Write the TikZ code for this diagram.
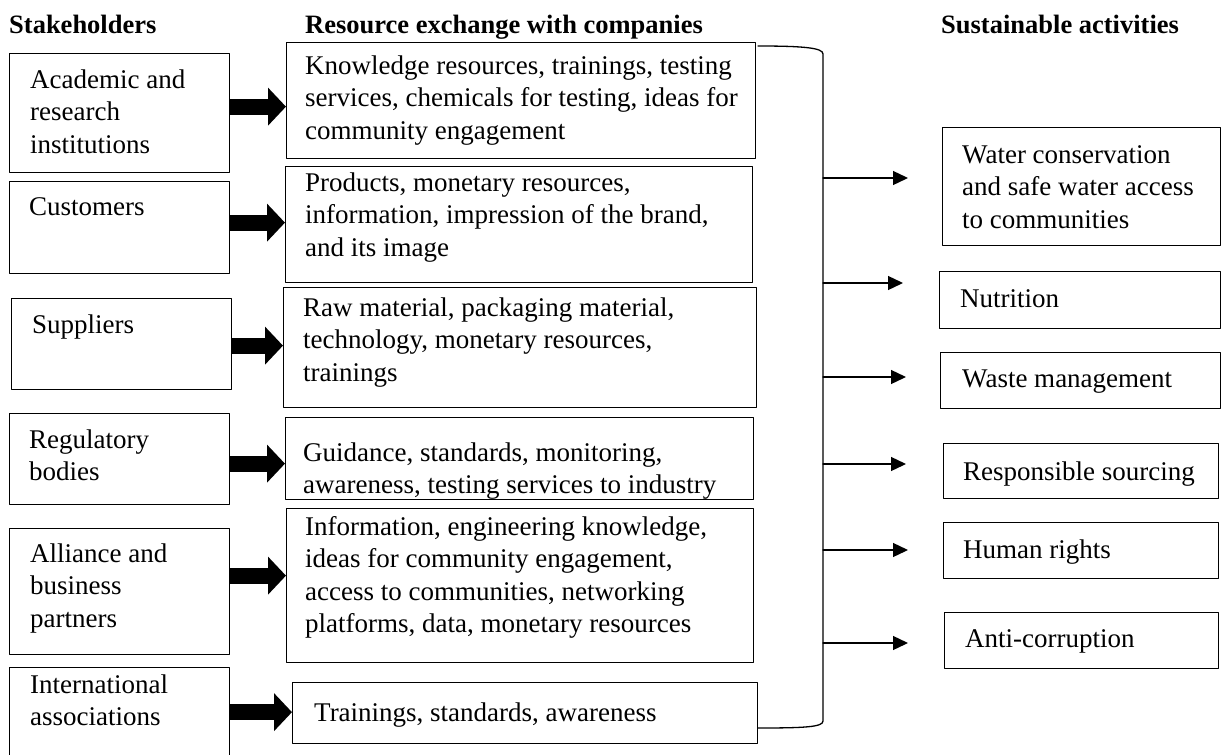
\documentclass[tikz,border=0pt]{standalone}
\usepackage{fontspec}
\setmainfont{Liberation Serif}
\usetikzlibrary{arrows.meta}

\begin{document}
\begin{tikzpicture}[line cap=round,line join=round,x=1pt,y=1pt,
  every node/.style={font=\fontsize{27}{32.5}\selectfont},
  head/.style={anchor=base west,inner sep=0pt,font=\fontsize{26.5}{32}\selectfont\bfseries},
  box/.style={draw,line width=1.3pt,inner sep=0pt,anchor=north west},
  txt/.style={anchor=base west,align=left,inner sep=0pt},
  push/.style={-{Triangle[length=18pt,width=37pt]},line width=16pt,line cap=butt},
  flow/.style={-{Triangle[length=15pt,width=14pt]},line width=1.3pt}]
\useasboundingbox (0,0) rectangle (1221,-755);
\clip (0,0) rectangle (1221,-755);

% headings
\node[head] (hstake) at (9,-33) {Stakeholders};
\node[head] (hres) at (305,-33) {Resource exchange with companies};
\node[head] (hsus) at (941,-33) {Sustainable activities};

% stakeholders (text nodes sit on the baseline of their last line)
\node[box,minimum width=220pt,minimum height=119pt] (acad) at (9,-53) {};
\node[txt] (acadt) at (30,-153) {Academic and\\research\\institutions};
\node[box,minimum width=220pt,minimum height=92pt] (cust) at (9,-181) {};
\node[txt] (custt) at (29,-215) {Customers};
\node[box,minimum width=220pt,minimum height=91pt] (supp) at (11,-298) {};
\node[txt] (suppt) at (32,-333) {Suppliers};
\node[box,minimum width=220pt,minimum height=91pt] (regu) at (9,-413) {};
\node[txt] (regut) at (29,-480.5) {Regulatory\\bodies};
\node[box,minimum width=220pt,minimum height=126pt] (alli) at (9,-528) {};
\node[txt] (allit) at (30,-627) {Alliance and\\business\\partners};
\node[box,minimum width=220pt,minimum height=110pt] (intl) at (9,-667) {};
\node[txt] (intlt) at (30,-725.5) {International\\associations};

% resources exchanged
\node[box,minimum width=469pt,minimum height=116pt] (res1) at (286,-42) {};
\node[txt] (res1t) at (305,-139) {Knowledge resources, trainings, testing\\services, chemicals for testing, ideas for\\community engagement};
\node[box,minimum width=467pt,minimum height=116pt] (res2) at (285,-166) {};
\node[txt] (res2t) at (305,-256) {Products, monetary resources,\\information, impression of the brand,\\and its image};
\node[box,minimum width=473pt,minimum height=120pt] (res3) at (283,-287) {};
\node[txt] (res3t) at (303,-381) {Raw material, packaging material,\\technology, monetary resources,\\trainings};
\node[box,minimum width=468pt,minimum height=82pt] (res4) at (285,-417) {};
\node[txt] (res4t) at (303,-493.5) {Guidance, standards, monitoring,\\awareness, testing services to industry};
\node[box,minimum width=467pt,minimum height=154pt] (res5) at (286,-508) {};
\node[txt] (res5t) at (305,-632.5) {Information, engineering knowledge,\\ideas for community engagement,\\access to communities, networking\\platforms, data, monetary resources};
\node[box,minimum width=465pt,minimum height=61pt] (res6) at (292,-682) {};
\node[txt] (res6t) at (314,-721) {Trainings, standards, awareness};

% stakeholder -> resources
\foreach \s/\r/\dy in {acad/res1/-6,cust/res2/2,supp/res3/2,regu/res4/-5,alli/res5/10,intl/res6/1}
  \draw[push] ([yshift=\dy pt]\s.east |- \r.west) -- ([yshift=\dy pt]\r.west);

% bracket
\coordinate (bt) at (823,-54);
\coordinate (bb) at (823,-721);
\draw[line width=1.3pt] (758,-46) .. controls (805,-46) and (823,-48) .. (bt) -- (bb)
  .. controls (823,-727) and (805,-728) .. (758,-728);

% sustainable activities
\node[box,minimum width=278pt,minimum height=118pt] (water) at (942,-127) {};
\node[txt] (watert) at (962,-228) {Water conservation\\and safe water access\\to communities};
\node[box,minimum width=281pt,minimum height=57pt] (nutr) at (939,-271) {};
\node[txt] (nutrt) at (960,-307) {Nutrition};
\node[box,minimum width=280pt,minimum height=56pt] (waste) at (940,-352) {};
\node[txt] (wastet) at (962,-387) {Waste management};
\node[box,minimum width=275pt,minimum height=55pt] (sourc) at (943,-443) {};
\node[txt] (sourct) at (963,-480) {Responsible sourcing};
\node[box,minimum width=275pt,minimum height=56pt] (human) at (943,-522) {};
\node[txt] (humant) at (963,-558) {Human rights};
\node[box,minimum width=274pt,minimum height=56pt] (corr) at (944,-612) {};
\node[txt] (corrt) at (965,-647) {Anti-corruption};

% bracket -> activities
\foreach \n/\x/\y in {1/908/178,2/903/283,3/906/377,4/906/464,5/908/550,6/908/643}
  \coordinate (tip\n) at (\x,-\y);
\foreach \n in {1,...,6}
  \draw[flow] (bt |- tip\n) -- (tip\n);

\end{tikzpicture}
\end{document}
